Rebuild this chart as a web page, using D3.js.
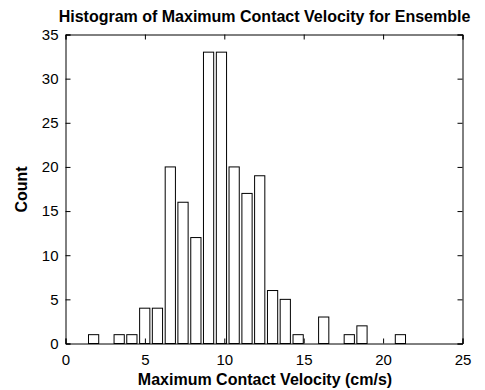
<!DOCTYPE html>
<html>
<head>
<meta charset="utf-8">
<script src="https://cdn.jsdelivr.net/npm/d3@7"></script>
<style>
  html, body { margin: 0; padding: 0; background: #fff; }
  svg { display: block; font-family: "Liberation Sans", Arial, sans-serif; }
</style>
</head>
<body>
<svg id="chart" width="485" height="390"></svg>
<script>
// Histogram bins: centre velocity (cm/s) and number of contacts in each bin
const binCenters = [1.77, 2.57, 3.38, 4.18, 4.99, 5.79, 6.60, 7.40, 8.21, 9.01,
                    9.82, 10.62, 11.43, 12.23, 13.04, 13.84, 14.65, 15.45, 16.26, 17.06,
                    17.87, 18.67, 19.48, 20.28, 21.09];
const counts = [1, 0, 1, 1, 4, 4, 20, 16, 12, 33,
                33, 20, 17, 19, 6, 5, 1, 0, 3, 0,
                1, 2, 0, 0, 1];
const binWidth = 0.805;
const xTicks = [0, 5, 10, 15, 20, 25];
const yTicks = [0, 5, 10, 15, 20, 25, 30, 35];

const titleText = "Histogram of Maximum Contact Velocity for Ensemble";
const xLabelText = "Maximum Contact Velocity (cm/s)";
const yLabelText = "Count";

const svg = d3.select("#chart");
const plotLeft = 65.5, plotRight = 462.5, plotTop = 34.5, plotBottom = 343.5;

const x = d3.scaleLinear().domain([0, 25]).range([plotLeft, plotRight]);
const y = d3.scaleLinear().domain([0, 35]).range([plotBottom, plotTop]);

// bars: 80% of the bin spacing, white with black edges
const barW = binWidth * 0.8;
svg.append("g")
  .selectAll("rect")
  .data(binCenters.map((c, i) => ({ c, n: counts[i] })))
  .join("rect")
  .attr("x", d => x(d.c - barW / 2))
  .attr("width", d => x(d.c + barW / 2) - x(d.c - barW / 2))
  .attr("y", d => y(d.n))
  .attr("height", d => y(0) - y(d.n))
  .attr("fill", "#fff")
  .attr("stroke", "#000")
  .attr("stroke-width", 1);

// axes with inward ticks on all four sides
const tickLen = 5;
const gx = svg.append("g").attr("transform", `translate(0,${plotBottom})`)
  .call(d3.axisBottom(x).tickValues(xTicks).tickSize(-tickLen).tickPadding(11));
const gxTop = svg.append("g").attr("transform", `translate(0,${plotTop})`)
  .call(d3.axisTop(x).tickValues(xTicks).tickSize(-tickLen).tickFormat(""));
const gy = svg.append("g").attr("transform", `translate(${plotLeft},0)`)
  .call(d3.axisLeft(y).tickValues(yTicks).tickSize(-tickLen).tickPadding(7));
const gyRight = svg.append("g").attr("transform", `translate(${plotRight},0)`)
  .call(d3.axisRight(y).tickValues(yTicks).tickSize(-tickLen).tickFormat(""));

[gx, gxTop, gy, gyRight].forEach(g => {
  g.select(".domain").attr("stroke", "#000").attr("stroke-width", 1);
  g.selectAll(".tick line").attr("stroke", "#000").attr("stroke-width", 1);
  g.selectAll(".tick text")
    .attr("fill", "#000")
    .attr("font-family", "Liberation Sans, Arial, sans-serif")
    .attr("font-size", 15);
});

// title and axis labels
svg.append("text")
  .attr("x", 264.5).attr("y", 22)
  .attr("text-anchor", "middle")
  .attr("font-weight", "bold").attr("font-size", 16)
  .text(titleText);

svg.append("text")
  .attr("x", 265).attr("y", 385)
  .attr("text-anchor", "middle")
  .attr("font-weight", "bold").attr("font-size", 16)
  .text(xLabelText);

svg.append("text")
  .attr("transform", "translate(27,189.5) rotate(-90)")
  .attr("text-anchor", "middle")
  .attr("font-weight", "bold").attr("font-size", 16)
  .text(yLabelText);
</script>
</body>
</html>
